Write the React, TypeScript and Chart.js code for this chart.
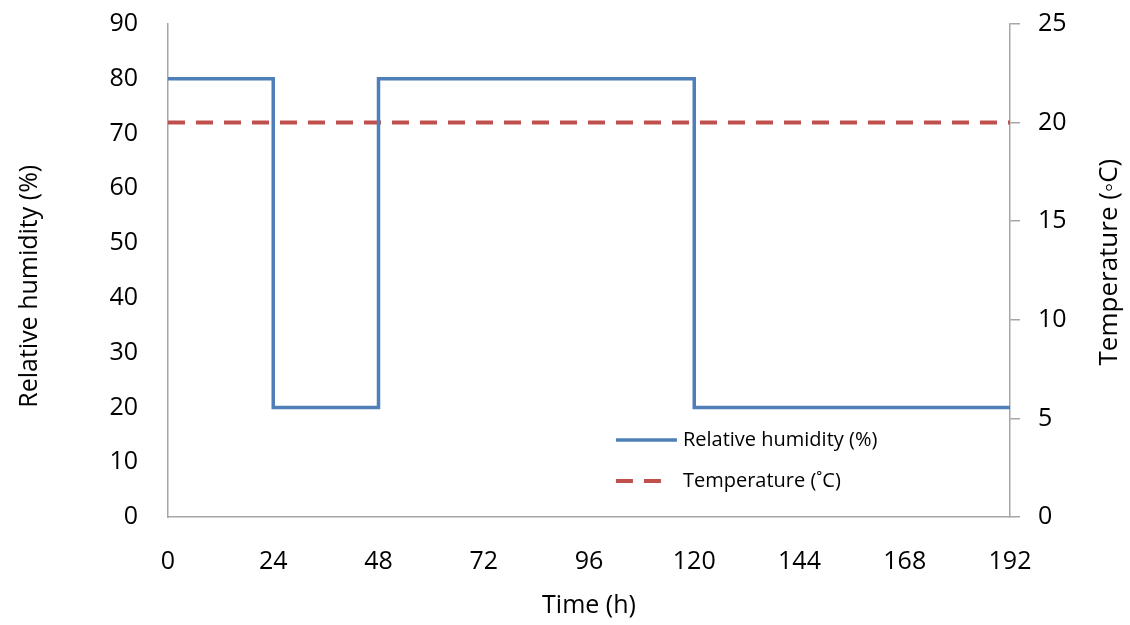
import React, { useEffect, useRef } from "react";
import { Chart, registerables } from "chart.js";

Chart.register(...registerables);

const hours = [0, 24, 48, 120, 192];
const humidity = [80, 20, 80, 20, 20];
const tempHours = [0, 192];
const temperature = [20, 20];
const xTickValues = [0, 24, 48, 72, 96, 120, 144, 168, 192];

const humidityLabel = "Relative humidity (%)";
const temperatureLabel = "Temperature (˚C)";
const xTitle = "Time (h)";
const yTitle = "Relative humidity (%)";
const y1Title = "Temperature (◦C)";

const FONT = "'Open Sans', sans-serif";
const AXIS_COLOR = "#a6a6a6";

function drawVerticalTitle(ctx: any, text: string, cx: number, cy: number, size: number) {
  ctx.save();
  ctx.translate(cx, cy);
  ctx.rotate(-Math.PI / 2);
  ctx.font = `${size}px ${FONT}`;
  ctx.textAlign = "center";
  ctx.textBaseline = "middle";
  ctx.fillStyle = "#000";
  ctx.fillText(text, 0, 0);
  ctx.restore();
}

const legendPlugin = {
  id: "insideLegend",
  afterDraw(chart: any) {
    const ctx = chart.ctx;
    const x = chart.scales.x;
    const y = chart.scales.y;
    const y1 = chart.scales.y1;
    const items = chart.data.datasets;
    const startX = x.left + (x.right - x.left) * 0.532;
    const lineLen = 61;
    const h = y.bottom - y.top;
    const rows = [y.top + h * 0.844, y.top + h * 0.927];
    ctx.save();
    items.forEach((ds: any, i: number) => {
      const yy = rows[i];
      ctx.beginPath();
      ctx.strokeStyle = ds.borderColor;
      ctx.lineWidth = ds.borderWidth;
      ctx.setLineDash(ds.borderDash || []);
      ctx.moveTo(startX, yy);
      ctx.lineTo(startX + (ds.borderDash ? 48 : lineLen), yy);
      ctx.stroke();
      ctx.setLineDash([]);
      ctx.fillStyle = "#000";
      ctx.font = `20px ${FONT}`;
      ctx.textBaseline = "middle";
      ctx.textAlign = "left";
      ctx.fillText(ds.label, startX + 67, yy);
    });
    ctx.restore();
    drawVerticalTitle(ctx, yTitle, y.left + 30, y.top + h * 0.532, 25);
    drawVerticalTitle(ctx, y1Title, y1.right - 20, y1.top + h * 0.483, 26);
  },
};

export default function App() {
  const ref = useRef<HTMLCanvasElement>(null);
  useEffect(() => {
    document.body.style.margin = "0";
    const chart = new Chart(ref.current!, {
      type: "line",
      data: {
        datasets: [
          {
            label: humidityLabel,
            data: hours.map((h, i) => ({ x: h, y: humidity[i] })),
            borderColor: "#4f7fb8",
            borderWidth: 3.5,
            stepped: true,
            pointRadius: 0,
            yAxisID: "y",
            fill: false,
          },
          {
            label: temperatureLabel,
            data: tempHours.map((h, i) => ({ x: h, y: temperature[i] })),
            borderColor: "#c0504d",
            borderWidth: 4,
            borderDash: [17, 11],
            pointRadius: 0,
            yAxisID: "y1",
            fill: false,
          },
        ],
      },
      options: {
        animation: false,
        responsive: false,
        layout: { padding: { top: 24, left: 0, right: 0, bottom: 0 } },
        plugins: { legend: { display: false }, tooltip: { enabled: false } },
        scales: {
          x: {
            type: "linear",
            min: 0,
            max: 192,
            afterFit: (s: any) => { s.height = 108; s.paddingLeft = 0; s.paddingRight = 0; },
            afterBuildTicks: (s: any) => { s.ticks = xTickValues.map((v) => ({ value: v })); },
            ticks: { color: "#000", font: { family: FONT, size: 25 }, padding: 30, maxRotation: 0 },
            grid: { display: true, drawOnChartArea: false, drawTicks: false },
            border: { display: true, color: AXIS_COLOR, width: 1.5 },
            title: { display: true, text: xTitle, color: "#000", font: { family: FONT, size: 25 }, padding: { top: 4, bottom: 4 } },
          },
          y: {
            type: "linear",
            position: "left",
            min: 0,
            max: 90,
            afterFit: (s: any) => { s.width = 168; s.paddingTop = 0; s.paddingBottom = 0; },
            ticks: { stepSize: 10, color: "#000", font: { family: FONT, size: 25 }, padding: 30 },
            grid: { display: true, drawOnChartArea: false, drawTicks: false },
            border: { display: true, color: AXIS_COLOR, width: 1.5 },
            title: { display: false, text: yTitle },
          },
          y1: {
            type: "linear",
            position: "right",
            min: 0,
            max: 25,
            afterFit: (s: any) => { s.width = 120; s.paddingTop = 0; s.paddingBottom = 0; },
            ticks: { stepSize: 5, color: "#000", font: { family: FONT, size: 25 }, padding: 18 },
            grid: { display: true, drawOnChartArea: false, drawTicks: true, tickLength: 10, color: AXIS_COLOR, lineWidth: 1.5 },
            border: { display: true, color: AXIS_COLOR, width: 1.5 },
            title: { display: false, text: y1Title },
          },
        },
      },
      plugins: [legendPlugin],
    } as any);
    return () => chart.destroy();
  }, []);
  return (
    <div style={{ width: 1130, height: 625, background: "#fff" }}>
      <canvas ref={ref} width={1130} height={625} style={{ display: "block" }} />
    </div>
  );
}
